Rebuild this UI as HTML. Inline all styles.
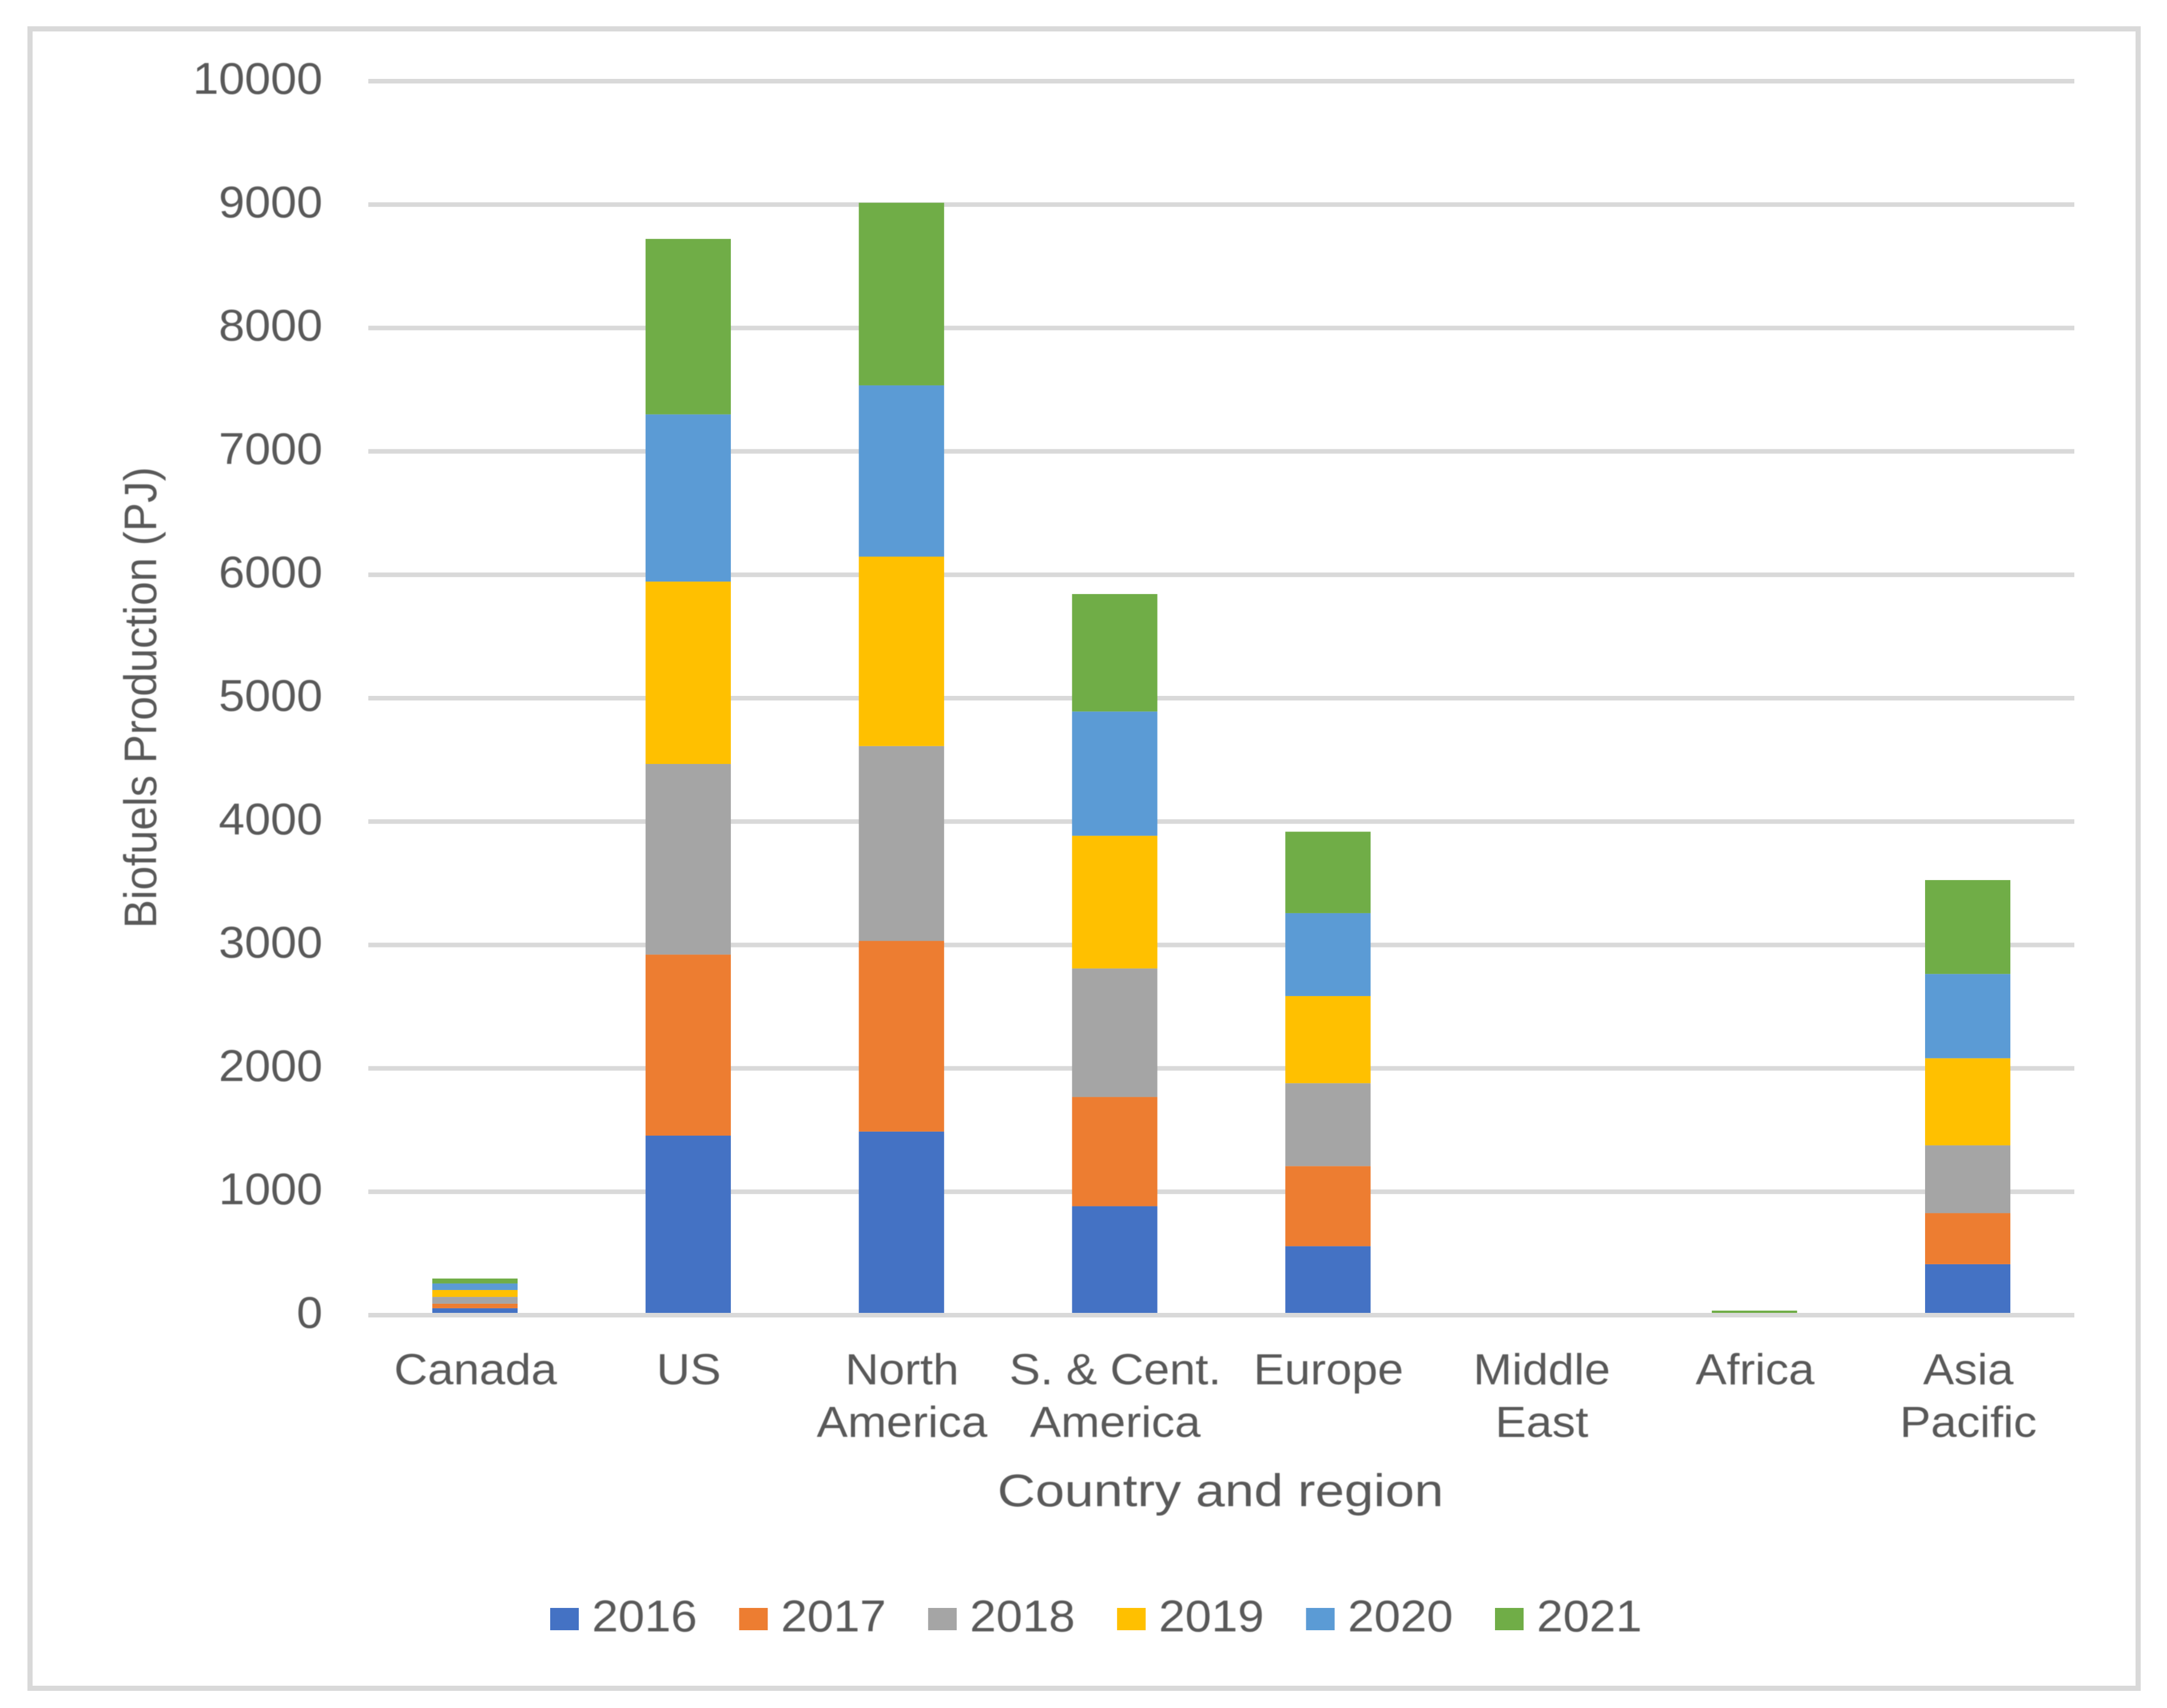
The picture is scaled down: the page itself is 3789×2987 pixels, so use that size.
<!DOCTYPE html>
<html lang="en">
<head>
<meta charset="utf-8">
<title>Biofuels Production by Country and Region</title>
<style>
  html, body { margin: 0; padding: 0; background: #ffffff; }
  #chart-root { display: block; width: 3789px; height: 2987px; }
  text { font-family: "Liberation Sans", sans-serif; fill: #595959; filter: blur(0.8px); }
</style>
</head>
<body>
<svg id="chart-root" xmlns="http://www.w3.org/2000/svg" width="3789" height="2987" viewBox="0 0 3789 2987">
  <rect x="0" y="0" width="3789" height="2987" fill="#ffffff"/>
  <rect x="52.5" y="50.5" width="3686" height="2902" fill="none" stroke="#d9d9d9" stroke-width="9"/>
  <g id="grid-layer"></g>
  <g id="bar-layer"></g>
  <line x1="644" x2="3627" y1="2300" y2="2300" stroke="#d9d9d9" stroke-width="8"/>
  <g id="y-tick-layer"></g>
  <g id="x-tick-layer"></g>
  <text transform="translate(273 1220) rotate(-90)" text-anchor="middle" font-size="80" textLength="807" lengthAdjust="spacingAndGlyphs">Biofuels Production (PJ)</text>
  <text x="2134" y="2634" text-anchor="middle" font-size="80" textLength="780" lengthAdjust="spacingAndGlyphs">Country and region</text>
  <g id="legend-layer"></g>
</svg>
<script>
const categories = [["Canada"], ["US"], ["North", "America"], ["S. & Cent.", "America"], ["Europe"], ["Middle", "East"], ["Africa"], ["Asia", "Pacific"]];
const seriesNames = ["2016", "2017", "2018", "2019", "2020", "2021"];
const seriesColors = ["#4472c4", "#ed7d31", "#a5a5a5", "#ffc000", "#5b9bd5", "#70ad47"];
const values2016 = [56, 1455, 1488, 883, 559, 0, 3, 413];
const values2017 = [37, 1467, 1545, 885, 649, 0, 3, 414];
const values2018 = [55, 1545, 1579, 1042, 672, 0, 3, 549];
const values2019 = [56, 1478, 1535, 1075, 706, 0, 3, 706];
const values2020 = [53, 1355, 1388, 1007, 672, 0, 3, 683];
const values2021 = [40, 1422, 1480, 952, 660, 0, 22, 761];
const yTickLabels = [0, 1000, 2000, 3000, 4000, 5000, 6000, 7000, 8000, 9000, 10000];

const allSeries = [values2016, values2017, values2018, values2019, values2020, values2021];
const SVG_NS = "http://www.w3.org/2000/svg";
const plotLeft = 644, plotRight = 3627, plotTop = 142, plotZero = 2300, yMax = 10000;
const bandWidth = (plotRight - plotLeft) / categories.length;
const barWidth = bandWidth * 0.4;

function yScale(v) { return plotZero - (v / yMax) * (plotZero - plotTop); }
function xCenter(i) { return plotLeft + bandWidth * (i + 0.5); }
function make(tag, attrs, parent) {
  const el = document.createElementNS(SVG_NS, tag);
  for (const k in attrs) el.setAttribute(k, attrs[k]);
  parent.appendChild(el);
  return el;
}

const gridLayer = document.getElementById("grid-layer");
const yTickLayer = document.getElementById("y-tick-layer");
yTickLabels.forEach(function (t) {
  const y = yScale(t);
  if (t !== 0) {
    const g = make("line", { x1: plotLeft, x2: plotRight, y1: y, y2: y, stroke: "#d9d9d9", "stroke-width": 8 }, gridLayer);
    
    
  }
  const s = String(t);
  const label = make("text", { x: 564, y: y + 22, "text-anchor": "end", "font-size": 78, textLength: s.length * 45.4, lengthAdjust: "spacingAndGlyphs" }, yTickLayer);
  
  
  label.textContent = s;
});

const barLayer = document.getElementById("bar-layer");
categories.forEach(function (lines, i) {
  let cumulative = 0;
  allSeries.forEach(function (series, s) {
    const v = series[i];
    const top = yScale(cumulative + v);
    const bottom = yScale(cumulative);
    cumulative += v;
    if (v <= 0) return;
    const seg = make("rect", { x: xCenter(i) - barWidth / 2, y: top, width: barWidth, height: bottom - top, fill: seriesColors[s] }, barLayer);
    
    
  });
});

const xTickLayer = document.getElementById("x-tick-layer");
categories.forEach(function (lines, i) {
  lines.forEach(function (line, n) {
    const label = make("text", { x: xCenter(i) + 1, y: 2421 + n * 92, "text-anchor": "middle", "font-size": 76 }, xTickLayer);
    
    
    label.textContent = line;
    label.setAttribute('lengthAdjust', 'spacingAndGlyphs');
    label.setAttribute('textLength', label.getComputedTextLength() * 1.07);
  });
});

const legendLayer = document.getElementById("legend-layer");
const legendStep = 330.4, legendStart = 962;
seriesNames.forEach(function (name, i) {
  const x = legendStart + i * legendStep;
  const swatch = make("rect", { x: x, y: 2812, width: 50, height: 39, fill: seriesColors[i] }, legendLayer);
  
  
  const label = make("text", { x: x + 73, y: 2853, "font-size": 78, textLength: 184, lengthAdjust: "spacingAndGlyphs" }, legendLayer);
  
  
  label.textContent = name;
});
</script>
</body>
</html>
